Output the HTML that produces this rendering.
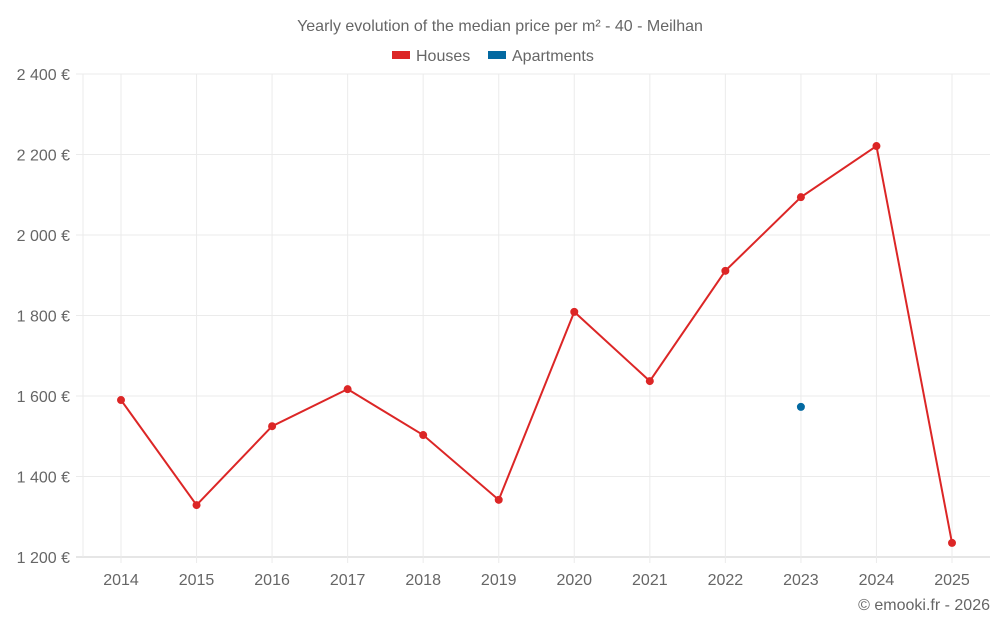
<!DOCTYPE html>
<html><head><meta charset="utf-8"><style>
body{margin:0;background:#fff;font-family:"Liberation Sans",sans-serif}
svg text{font-family:"Liberation Sans",sans-serif;fill:#666}
</style></head><body>
<svg id="c" width="1000" height="625">
<text x="500" y="31" text-anchor="middle" font-size="16">Yearly evolution of the median price per m² - 40 - Meilhan</text>
<g>
<rect x="392" y="51" width="18" height="8" fill="#dc2626"/>
<text x="416" y="61" font-size="16">Houses</text>
<rect x="488" y="51" width="18" height="8" fill="#0369a1"/>
<text x="512" y="61" font-size="16">Apartments</text>
</g>
<g id="grid"></g><g id="marks"></g>
<text x="990" y="610" text-anchor="end" font-size="16">© emooki.fr - 2026</text>
</svg>
<script>
const years=[2014,2015,2016,2017,2018,2019,2020,2021,2022,2023,2024,2025];
const houses=[1590,1329,1525,1617,1503,1342,1809,1637,1911,2094,2221,1235];
const apartments=[null,null,null,null,null,null,null,null,null,1573,null,null];
const yTicks=[1200,1400,1600,1800,2000,2200,2400];
const NS="http://www.w3.org/2000/svg";
const X0=83,X1=990,Y0=557,Y1=74;
const x=i=>121+i*(952-121)/(years.length-1);
const y=v=>Y0-(v-1200)/(2400-1200)*(Y0-Y1);
function mk(t,a,p){const e=document.createElementNS(NS,t);for(const k in a)e.setAttribute(k,a[k]);p.appendChild(e);return e;}
const g=document.getElementById('grid'),m=document.getElementById('marks');
yTicks.forEach(v=>{
 const l=mk('line',{x1:76,x2:X1,y1:y(v),y2:y(v),stroke:v===1200?'#ccc':'#ebebeb'},g);
 
 
 const t=mk('text',{x:70,y:y(v)+6,'text-anchor':'end','font-size':16},g);
 t.textContent=v.toLocaleString('fr-FR').replace(/\s/g,' ')+' €';
 
 
});
const l0=mk('line',{x1:X0,x2:X0,y1:Y1,y2:Y0,stroke:'#ebebeb'},g);


years.forEach((yr,i)=>{
 const l=mk('line',{x1:x(i),x2:x(i),y1:Y1,y2:Y0+6,stroke:'#ebebeb'},g);
 
 
 const t=mk('text',{x:x(i),y:585,'text-anchor':'middle','font-size':16},g);
 t.textContent=yr;
 
 
});
const pts=houses.map((v,i)=>x(i)+','+y(v)).join(' ');
const pl=mk('polyline',{points:pts,fill:'none',stroke:'#dc2626','stroke-width':2},m);


houses.forEach((v,i)=>{
 const c=mk('circle',{cx:x(i),cy:y(v),r:4,fill:'#dc2626'},m);
 
 
});
apartments.forEach((v,i)=>{if(v==null)return;
 const c=mk('circle',{cx:x(i),cy:y(v),r:4,fill:'#0369a1'},m);
 
 
});
</script>
</body></html>
